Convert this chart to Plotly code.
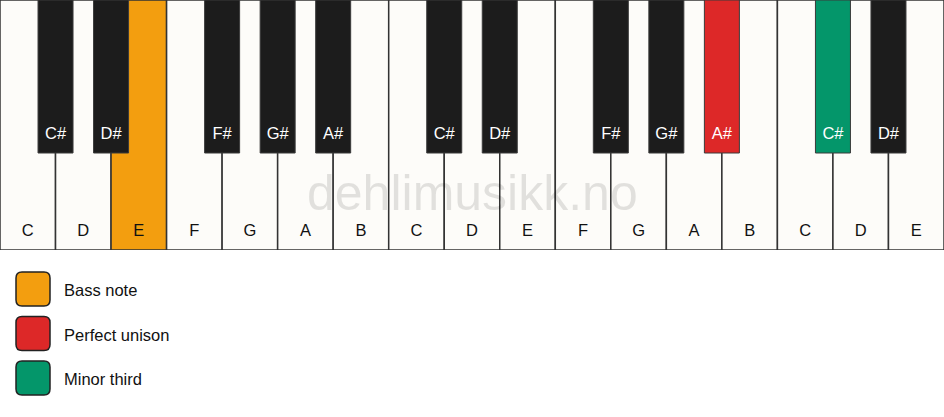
import plotly.graph_objects as go

# keyboard data
white_notes = ["C", "D", "E", "F", "G", "A", "B", "C", "D", "E", "F", "G", "A", "B", "C", "D", "E"]
black_notes = ["C#", "D#", "F#", "G#", "A#", "C#", "D#", "F#", "G#", "A#", "C#", "D#"]
black_slots = [1, 2, 4, 5, 6, 8, 9, 11, 12, 13, 15, 16]   # white-key boundary each black key sits on

# highlighted keys: (kind, index, legend label)
highlights = [("white", 2, "Bass note"), ("black", 9, "Perfect unison"), ("black", 10, "Minor third")]
legend_labels = ["Bass note", "Perfect unison", "Minor third"]
legend_colors = ["#F39E0F", "#DD2828", "#04966A"]

WHITE = "#FDFCF9"
BLACK = "#1C1C1C"
KEY_H = 250          # white key height (px units)
BLACK_H = 153        # black key height
BLACK_W = 35 / (944 / 17)

color_of = {lab: col for lab, col in zip(legend_labels, legend_colors)}
white_fill = [WHITE] * len(white_notes)
black_fill = [BLACK] * len(black_notes)
for kind, idx, lab in highlights:
    if kind == "white":
        white_fill[idx] = color_of[lab]
    else:
        black_fill[idx] = color_of[lab]

font = "Liberation Sans, Arial, sans-serif"
fig = go.Figure()

fig.add_trace(go.Bar(
    x=[i + 0.5 for i in range(len(white_notes))],
    y=[KEY_H] * len(white_notes),
    width=1,
    marker=dict(color=white_fill, line=dict(color="#333333", width=1.5)),
    hoverinfo="skip",
    showlegend=False,
))

fig.add_trace(go.Bar(
    x=black_slots,
    y=[BLACK_H] * len(black_notes),
    base=KEY_H - BLACK_H,
    width=BLACK_W,
    marker=dict(color=black_fill, line=dict(color="#3A3A3A", width=1)),
    hoverinfo="skip",
    showlegend=False,
))

fig.add_trace(go.Scatter(
    x=[i + 0.5 for i in range(len(white_notes))],
    y=[18.5] * len(white_notes),
    mode="text",
    text=white_notes,
    textfont=dict(family=font, size=16.5, color="#111111"),
    hoverinfo="skip",
    showlegend=False,
))

fig.add_trace(go.Scatter(
    x=black_slots,
    y=[115.5] * len(black_notes),
    mode="text",
    text=black_notes,
    textfont=dict(family=font, size=16.5, color="#FFFFFF"),
    hoverinfo="skip",
    showlegend=False,
))

# legend drawn on a second pair of axes in pixel units
shapes = []
annotations = []
for i, (lab, col) in enumerate(zip(legend_labels, legend_colors)):
    cy = 289 + i * 44.5
    x0, x1, y0, y1, r = 16, 50, cy - 17, cy + 17, 6
    path = (f"M {x0 + r},{y0} L {x1 - r},{y0} Q {x1},{y0} {x1},{y0 + r} "
            f"L {x1},{y1 - r} Q {x1},{y1} {x1 - r},{y1} L {x0 + r},{y1} "
            f"Q {x0},{y1} {x0},{y1 - r} L {x0},{y0 + r} Q {x0},{y0} {x0 + r},{y0} Z")
    shapes.append(dict(type="path", path=path, xref="x2", yref="y2",
                       fillcolor=col, line=dict(color="#222222", width=1.5)))
    annotations.append(dict(x=62, y=cy + 1, xref="x2", yref="y2", text=lab, showarrow=False,
                            xanchor="left", yanchor="middle",
                            font=dict(family=font, size=16.5, color="#111111")))

annotations.append(dict(x=0.5, y=1 - 193 / 417, xref="paper", yref="paper", text="dehlimusikk.no",
                        showarrow=False, xanchor="center", yanchor="middle",
                        font=dict(family=font, size=50, color="rgba(0,0,0,0.11)")))

fig.update_layout(
    width=944, height=417,
    margin=dict(l=0, r=0, t=0, b=0),
    paper_bgcolor="white", plot_bgcolor="white",
    barmode="overlay",
    xaxis=dict(range=[0, 17], domain=[0, 1], visible=False, fixedrange=True),
    yaxis=dict(range=[0, KEY_H], domain=[1 - KEY_H / 417, 1], visible=False, fixedrange=True),
    xaxis2=dict(range=[0, 944], domain=[0, 1], visible=False, anchor="y2", fixedrange=True),
    yaxis2=dict(range=[417, KEY_H], domain=[0, 1 - KEY_H / 417], visible=False, anchor="x2", fixedrange=True),
    shapes=shapes,
    annotations=annotations,
)

fig.write_html("out.html", config={"displayModeBar": False},
               post_script="document.body.style.margin='0';document.body.style.overflow='hidden';")
